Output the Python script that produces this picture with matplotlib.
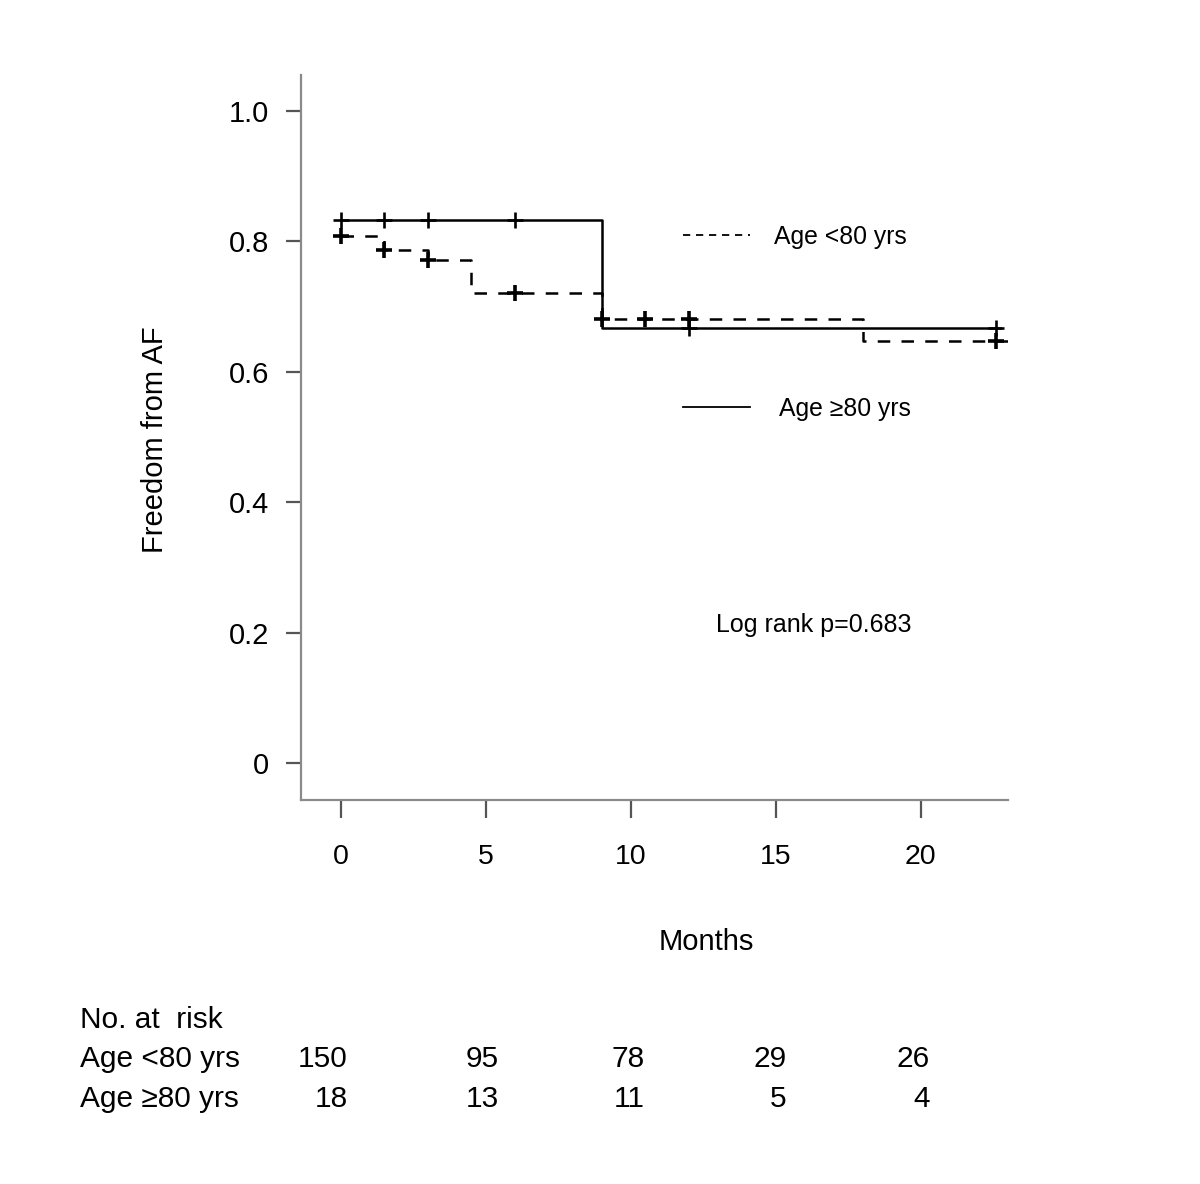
import matplotlib
matplotlib.use("Agg")
import matplotlib.pyplot as plt
from matplotlib.lines import Line2D
from matplotlib import font_manager

# ---- data ----
t_lt80 = [0, 1.5, 3, 4.5, 9, 18, 23.0]
s_lt80 = [0.808, 0.787, 0.772, 0.721, 0.681, 0.647, 0.647]
cens_t_lt80 = [0, 1.5, 3, 6, 9, 10.5, 12, 22.6]
cens_s_lt80 = [0.808, 0.787, 0.772, 0.721, 0.681, 0.681, 0.681, 0.647]

t_ge80 = [0, 9, 22.75]
s_ge80 = [0.833, 0.667, 0.667]
cens_t_ge80 = [0, 1.5, 3, 6, 12, 22.6]
cens_s_ge80 = [0.833, 0.833, 0.833, 0.833, 0.667, 0.667]

xticks = [0, 5, 10, 15, 20]
yticks = [0, 0.2, 0.4, 0.6, 0.8, 1.0]
ytick_labels = ["0", "0.2", "0.4", "0.6", "0.8", "1.0"]
risk_groups = ["Age <80 yrs", "Age \u226580 yrs"]
risk_lt80 = [150, 95, 78, 29, 26]
risk_ge80 = [18, 13, 11, 5, 4]

# layout: pixel offset of each risk-table column's right edge from its tick
col_offsets_px = [7, 13, 14, 11, 9]

names = {f.name for f in font_manager.fontManager.ttflist}
base = "Liberation Sans" if "Liberation Sans" in names else "DejaVu Sans"
plt.rcParams["font.family"] = [base, "DejaVu Sans"]

fig = plt.figure(figsize=(12, 11.84), dpi=100)
ax = fig.add_axes([301/1200, 1 - 800/1184, (1008-301)/1200, (800-75)/1184])

ax.step(t_lt80, s_lt80, where="post", color="black", lw=1.8, ls=(0, (5, 4.5)))
ax.step(t_ge80, s_ge80, where="post", color="black", lw=1.8)
ax.plot(cens_t_lt80, cens_s_lt80, ls="none", marker="+", ms=12, mew=2.6, color="black")
ax.plot(cens_t_ge80, cens_s_ge80, ls="none", marker="+", ms=12, mew=1.9, color="black")

ax.set_xlim(-40/28.98, (1008-341)/28.98)
ax.set_ylim(-(800-763)/652, (763-75)/652)
ax.set_xticks(xticks)
ax.set_xticklabels([str(v) for v in xticks], fontsize=20.5)
ax.set_yticks(yticks)
ax.set_yticklabels(ytick_labels, fontsize=21)
for s in ["top", "right"]:
    ax.spines[s].set_visible(False)
for s in ["left", "bottom"]:
    ax.spines[s].set_color("#8a8a8a")
    ax.spines[s].set_linewidth(1.6)
ax.tick_params(axis="y", length=11, width=1.6, color="#555555", pad=12)
ax.tick_params(axis="x", length=13, width=1.6, color="#555555", pad=19)

fig.text(155/1200, 1 - 440/1184, "Freedom from AF", rotation=90, fontsize=21,
         ha="center", va="center")
fig.text(706/1200, 1 - 942/1184, "Months", fontsize=21, ha="center", va="center")
fig.text(716/1200, 1 - 625/1184, "Log rank p=0.683", fontsize=18, ha="left", va="center")

h1 = Line2D([], [], color="black", lw=1.3, ls=(0, (4, 3.2)))
h2 = Line2D([], [], color="black", lw=1.3)
fig.legend([h1], [risk_groups[0]], loc="center left",
           bbox_to_anchor=(683/1200, 1 - 237/1184), frameon=False,
           fontsize=17.8, handlelength=2.7, handletextpad=1.0,
           borderpad=0, borderaxespad=0)
fig.legend([h2], [risk_groups[1]], loc="center left",
           bbox_to_anchor=(683/1200, 1 - 409/1184), frameon=False,
           fontsize=17.8, handlelength=2.7, handletextpad=1.2,
           borderpad=0, borderaxespad=0)

# number at risk table
fig.text(80/1200, 1 - 1020/1184, "No. at  risk", fontsize=21.5, ha="left", va="center")
for row, (grp, vals) in enumerate(zip(risk_groups, [risk_lt80, risk_ge80])):
    yy = 1 - (1059 + 40*row)/1184
    fig.text(80/1200, yy, grp, fontsize=21.5, ha="left", va="center")
    for xt, v, off in zip(xticks, vals, col_offsets_px):
        xd = ax.transData.transform((xt, 0))[0]
        fig.text((xd + off)/1200, yy, str(v), fontsize=21.5, ha="right", va="center")

fig.savefig("out.png", dpi=100)
